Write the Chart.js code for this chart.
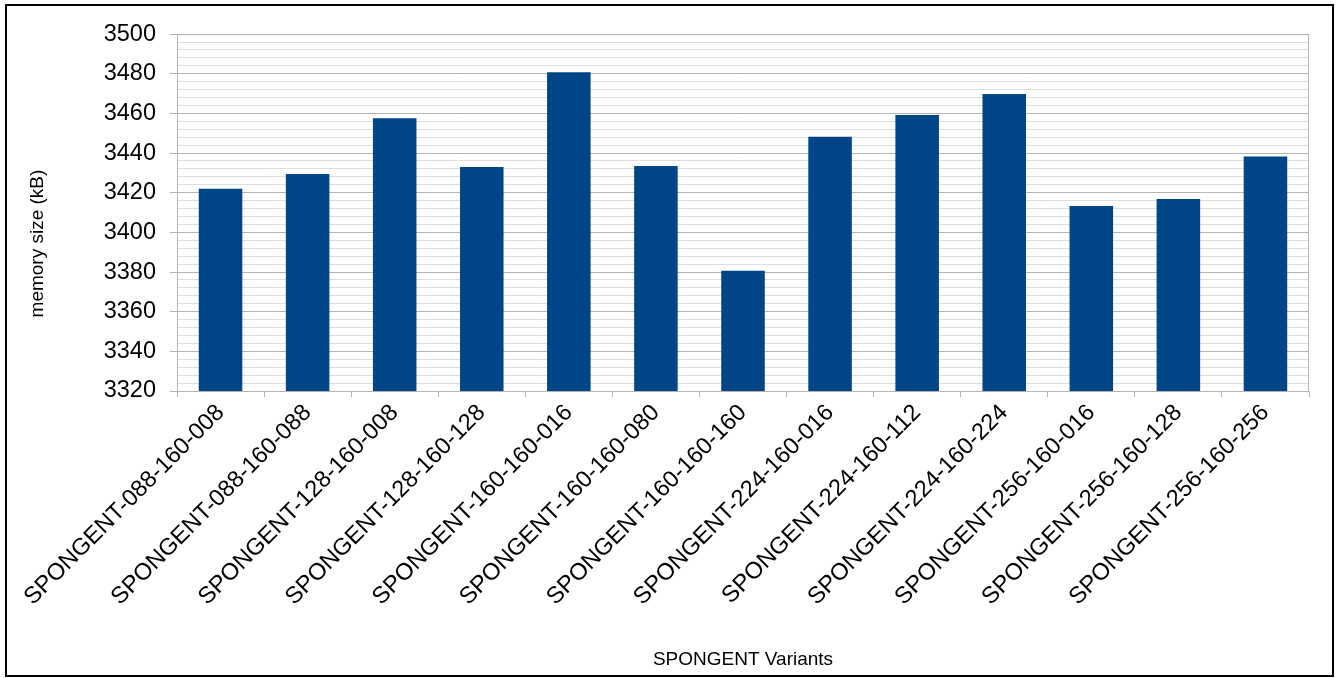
<!DOCTYPE html>
<html>
<head>
<meta charset="utf-8">
<script src="https://cdn.jsdelivr.net/npm/chart.js@4"></script>
<style>
  body { margin: 0; background: #fff; }
  #frame {
    position: absolute; left: 5px; top: 4px;
    width: 1325px; height: 669px;
    border: 2px solid #000;
  }
</style>
</head>
<body>
<div id="frame"><canvas id="memChart" width="1325" height="669"></canvas></div>
<script>
const variants = [
  "SPONGENT-088-160-008", "SPONGENT-088-160-088", "SPONGENT-128-160-008",
  "SPONGENT-128-160-128", "SPONGENT-160-160-016", "SPONGENT-160-160-080",
  "SPONGENT-160-160-160", "SPONGENT-224-160-016", "SPONGENT-224-160-112",
  "SPONGENT-224-160-224", "SPONGENT-256-160-016", "SPONGENT-256-160-128",
  "SPONGENT-256-160-256"
];
const memorySizes = [3422, 3429.5, 3457.5, 3433, 3480.7, 3433.5, 3380.7, 3448.2, 3459.2, 3469.8, 3413.3, 3416.8, 3438.3];
const yMin = 3320;
const yMax = 3500;
const minorStep = 4;
const majorStep = 20;

const FONT = "'Liberation Sans', Arial, sans-serif";

const isMajor = (v) => Math.abs(v % majorStep) < 1e-6;

// grey frame round the plot area, and the rotated y title
const plotFrame = {
  id: "plotFrame",
  afterDraw(chart) {
    const { ctx, chartArea: a } = chart;
    ctx.save();
    ctx.strokeStyle = "#b3b3b3";
    ctx.lineWidth = 1;
    ctx.strokeRect(a.left + 0.5, a.top + 0.5, a.right - a.left - 1, a.bottom - a.top);
    ctx.translate(31, (a.top + a.bottom) / 2 + 31);
    ctx.rotate(-Math.PI / 2);
    ctx.fillStyle = "#000";
    ctx.font = "19px " + FONT;
    ctx.textAlign = "center";
    ctx.textBaseline = "middle";
    ctx.fillText("memory size (kB)", 0, 0);
    ctx.restore();
  }
};

new Chart("memChart", {
  type: "bar",
  data: {
    labels: variants,
    datasets: [{
      label: "memory size (kB)",
      data: memorySizes,
      backgroundColor: "#004586",
      barPercentage: 0.5,
      categoryPercentage: 1.0,
    }],
  },
  options: {
    responsive: false,
    animation: false,
    layout: { padding: { top: 25, right: 23, left: 0, bottom: 0 } },
    plugins: {
      legend: { display: false },
      tooltip: { enabled: false },
    },
    scales: {
      x: {
        afterFit: (scale) => { scale.height = 284; },
        grid: {
          offset: true,
          drawOnChartArea: false,
          tickLength: 6,
          color: "#b3b3b3",
        },
        border: { color: "#b3b3b3" },
        ticks: {
          color: "#000",
          font: { size: 23.5, family: FONT },
          minRotation: 45,
          maxRotation: 45,
          autoSkip: false,
          padding: 2,
        },
        title: {
          display: true,
          text: "SPONGENT Variants",
          color: "#000",
          font: { size: 19, family: FONT },
          padding: { top: 0, bottom: 4 },
        },
      },
      y: {
        min: yMin,
        max: yMax,
        afterFit: (scale) => { scale.width = 170; },
        grid: {
          tickLength: 7,
          color: (c) => isMajor(c.tick.value) ? "#b3b3b3" : "#dddddd",
          tickColor: (c) => isMajor(c.tick.value) ? "#b3b3b3" : "rgba(0,0,0,0)",
        },
        border: { color: "#b3b3b3" },
        ticks: {
          stepSize: minorStep,
          autoSkip: false,
          color: "#000",
          padding: 14,
          font: { size: 23.5, family: FONT },
          callback: (v) => isMajor(v) ? v : "",
        },
      },
    },
  },
  plugins: [plotFrame],
});
</script>
</body>
</html>
